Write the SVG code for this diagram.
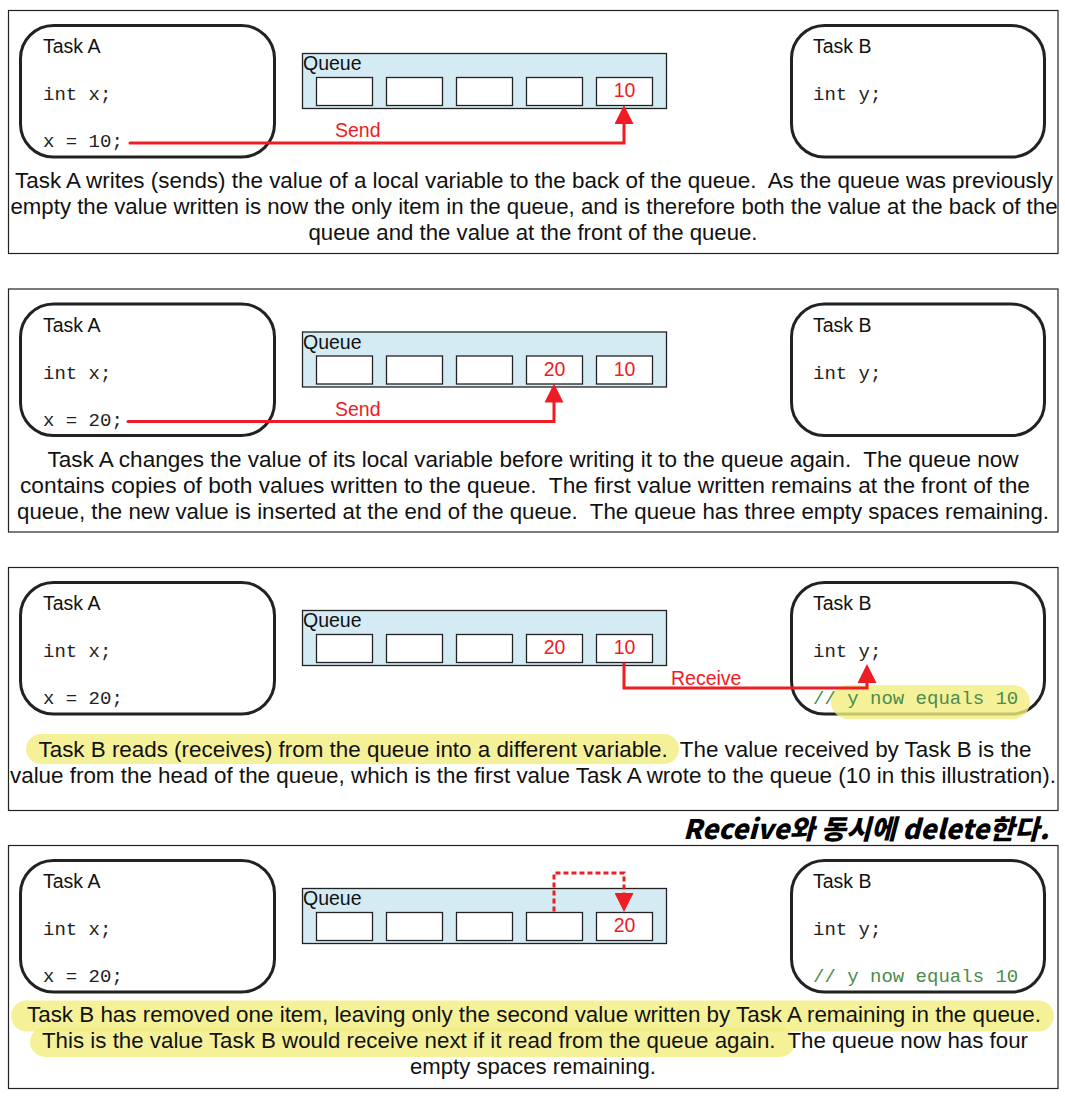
<svg xmlns="http://www.w3.org/2000/svg" width="1065" height="1096" viewBox="0 0 1065 1096">
<style>
.bg{fill:#fff}
.panel{fill:#fff;stroke:#222;stroke-width:1.2}
.task{fill:#fff;stroke:#222;stroke-width:3}
.q{fill:#d4ebf4;stroke:#222;stroke-width:1.3}
.cell{fill:#fff;stroke:#222;stroke-width:1.3}
.title{font-family:"Liberation Sans",Arial,sans-serif;font-size:19.5px;fill:#111}
.code{font-family:"Liberation Mono","Courier New",monospace;font-size:19px;fill:#222}
.cmt{fill:#4a8c4a}
.val{font-family:"Liberation Sans",Arial,sans-serif;font-size:19.5px;fill:#ee1c24;text-anchor:middle}
.lbl{font-family:"Liberation Sans",Arial,sans-serif;font-size:19.5px;fill:#ee1c24}
.desc{font-family:"Liberation Sans",Arial,sans-serif;font-size:22px;fill:#111;text-anchor:middle}
.arrow{fill:none;stroke:#ee1c24;stroke-width:3}
.dash{stroke-dasharray:5 3}
.hl{fill:#f2ee80;opacity:0.8}
.hand{font-family:"Noto Sans CJK KR","Liberation Sans",sans-serif;font-size:27px;font-weight:900;font-style:italic;fill:#000}
</style>
<defs>
<marker id="ah" markerUnits="userSpaceOnUse" markerWidth="19" markerHeight="19" refX="0" refY="9.5" orient="auto" viewBox="0 0 19 19">
<path d="M0,0 L19,9.5 L0,19 Z" fill="#ee1c24"/>
</marker>
</defs>
<rect class="bg" x="0" y="0" width="1065" height="1096"/>

<!-- Panel 1 -->
<g id="panel1">
<rect class="panel" x="8.5" y="10.5" width="1049.5" height="243"/>
<g id="p1-taskA">
<rect class="task" x="20.5" y="25.5" width="254" height="131.5" rx="33"/>
<text class="title" x="43" y="53">Task A</text>
<text class="code" x="43" y="100" xml:space="preserve">int x;</text>
<text class="code" x="43" y="147" xml:space="preserve">x = 10;</text>
</g>
<g id="p1-queue">
<rect class="q" x="302.5" y="53.5" width="364" height="55"/>
<text class="title" x="303" y="70">Queue</text>
<rect class="cell" x="316.5" y="77.5" width="56" height="28"/>
<rect class="cell" x="386.5" y="77.5" width="56" height="28"/>
<rect class="cell" x="456.5" y="77.5" width="56" height="28"/>
<rect class="cell" x="526.5" y="77.5" width="56" height="28"/>
<rect class="cell" x="596.5" y="77.5" width="56" height="28"/>
<text class="val" x="624.5" y="97">10</text>
</g>
<g id="p1-taskB">
<rect class="task" x="791.5" y="25.5" width="253" height="131.5" rx="33"/>
<text class="title" x="813" y="53">Task B</text>
<text class="code" x="813" y="100" xml:space="preserve">int y;</text>
</g>
<g id="p1-connectors">
<path class="arrow" d="M130,143 H624 V124" stroke-linecap="round" marker-end="url(#ah)"/>
<text class="lbl" x="335" y="137">Send</text>
</g>
<g id="p1-desc">
<text class="desc" x="534" y="188" textLength="1038" lengthAdjust="spacingAndGlyphs" xml:space="preserve">Task A writes (sends) the value of a local variable to the back of the queue.  As the queue was previously</text>
<text class="desc" x="534" y="214" textLength="1047" lengthAdjust="spacingAndGlyphs">empty the value written is now the only item in the queue, and is therefore both the value at the back of the</text>
<text class="desc" x="533" y="240" textLength="449" lengthAdjust="spacingAndGlyphs">queue and the value at the front of the queue.</text>
</g>
</g>

<!-- Panel 2 -->
<g id="panel2" transform="translate(0,278.5)">
<rect class="panel" x="8.5" y="10.5" width="1049.5" height="243"/>
<g id="p2-taskA">
<rect class="task" x="20.5" y="25.5" width="254" height="131.5" rx="33"/>
<text class="title" x="43" y="53">Task A</text>
<text class="code" x="43" y="100" xml:space="preserve">int x;</text>
<text class="code" x="43" y="147" xml:space="preserve">x = 20;</text>
</g>
<g id="p2-queue">
<rect class="q" x="302.5" y="53.5" width="364" height="55"/>
<text class="title" x="303" y="70">Queue</text>
<rect class="cell" x="316.5" y="77.5" width="56" height="28"/>
<rect class="cell" x="386.5" y="77.5" width="56" height="28"/>
<rect class="cell" x="456.5" y="77.5" width="56" height="28"/>
<rect class="cell" x="526.5" y="77.5" width="56" height="28"/>
<rect class="cell" x="596.5" y="77.5" width="56" height="28"/>
<text class="val" x="554.5" y="97">20</text>
<text class="val" x="624.5" y="97">10</text>
</g>
<g id="p2-taskB">
<rect class="task" x="791.5" y="25.5" width="253" height="131.5" rx="33"/>
<text class="title" x="813" y="53">Task B</text>
<text class="code" x="813" y="100" xml:space="preserve">int y;</text>
</g>
<g id="p2-connectors">
<path class="arrow" d="M128,143 H554 V124" stroke-linecap="round" marker-end="url(#ah)"/>
<text class="lbl" x="335" y="137">Send</text>
</g>
<g id="p2-desc">
<text class="desc" x="533" y="188" textLength="971" lengthAdjust="spacingAndGlyphs" xml:space="preserve">Task A changes the value of its local variable before writing it to the queue again.  The queue now</text>
<text class="desc" x="525" y="214" textLength="1010" lengthAdjust="spacingAndGlyphs" xml:space="preserve">contains copies of both values written to the queue.  The first value written remains at the front of the</text>
<text class="desc" x="533" y="240" textLength="1032" lengthAdjust="spacingAndGlyphs" xml:space="preserve">queue, the new value is inserted at the end of the queue.  The queue has three empty spaces remaining.</text>
</g>
</g>

<!-- Panel 3 -->
<g id="panel3" transform="translate(0,557)">
<rect class="panel" x="8.5" y="10.5" width="1049.5" height="243"/>
<g id="p3-taskA">
<rect class="task" x="20.5" y="25.5" width="254" height="131.5" rx="33"/>
<text class="title" x="43" y="53">Task A</text>
<text class="code" x="43" y="100" xml:space="preserve">int x;</text>
<text class="code" x="43" y="147" xml:space="preserve">x = 20;</text>
</g>
<g id="p3-queue">
<rect class="q" x="302.5" y="53.5" width="364" height="55"/>
<text class="title" x="303" y="70">Queue</text>
<rect class="cell" x="316.5" y="77.5" width="56" height="28"/>
<rect class="cell" x="386.5" y="77.5" width="56" height="28"/>
<rect class="cell" x="456.5" y="77.5" width="56" height="28"/>
<rect class="cell" x="526.5" y="77.5" width="56" height="28"/>
<rect class="cell" x="596.5" y="77.5" width="56" height="28"/>
<text class="val" x="554.5" y="97">20</text>
<text class="val" x="624.5" y="97">10</text>
</g>
<g id="p3-taskB">
<rect class="task" x="791.5" y="25.5" width="253" height="131.5" rx="33"/>
<rect class="hl" x="831" y="128" width="199" height="34" rx="17"/>
<text class="title" x="813" y="53">Task B</text>
<text class="code" x="813" y="100" xml:space="preserve">int y;</text>
<text class="code cmt" x="813" y="147" xml:space="preserve">// y now equals 10</text>
</g>
<g id="p3-connectors">
<path class="arrow" d="M624,105.5 V131 H867 V126" marker-end="url(#ah)"/>
<text class="lbl" x="671" y="128">Receive</text>
</g>
<g id="p3-desc">
<rect class="hl" x="26" y="177" width="653" height="30" rx="15"/>
<text class="desc" x="535" y="200" textLength="993" lengthAdjust="spacingAndGlyphs" xml:space="preserve">Task B reads (receives) from the queue into a different variable.  The value received by Task B is the</text>
<text class="desc" x="533" y="226" textLength="1046" lengthAdjust="spacingAndGlyphs">value from the head of the queue, which is the first value Task A wrote to the queue (10 in this illustration).</text>
</g>
</g>

<!-- Handwritten note -->
<g id="note">
<text class="hand" x="683" y="839" textLength="366" lengthAdjust="spacingAndGlyphs">Receive와 동시에 delete한다.</text>
</g>

<!-- Panel 4 -->
<g id="panel4" transform="translate(0,835)">
<rect class="panel" x="8.5" y="10.5" width="1049.5" height="243"/>
<g id="p4-taskA">
<rect class="task" x="20.5" y="25.5" width="254" height="131.5" rx="33"/>
<text class="title" x="43" y="53">Task A</text>
<text class="code" x="43" y="100" xml:space="preserve">int x;</text>
<text class="code" x="43" y="147" xml:space="preserve">x = 20;</text>
</g>
<g id="p4-queue">
<rect class="q" x="302.5" y="53.5" width="364" height="55"/>
<text class="title" x="303" y="70">Queue</text>
<rect class="cell" x="316.5" y="77.5" width="56" height="28"/>
<rect class="cell" x="386.5" y="77.5" width="56" height="28"/>
<rect class="cell" x="456.5" y="77.5" width="56" height="28"/>
<rect class="cell" x="526.5" y="77.5" width="56" height="28"/>
<rect class="cell" x="596.5" y="77.5" width="56" height="28"/>
<text class="val" x="624.5" y="97">20</text>
</g>
<g id="p4-taskB">
<rect class="task" x="791.5" y="25.5" width="253" height="131.5" rx="33"/>
<text class="title" x="813" y="53">Task B</text>
<text class="code" x="813" y="100" xml:space="preserve">int y;</text>
<text class="code cmt" x="813" y="147" xml:space="preserve">// y now equals 10</text>
</g>
<g id="p4-connectors">
<path class="arrow dash" d="M554,76.5 V38 H624 V58" marker-end="url(#ah)"/>
</g>
<g id="p4-desc">
<rect class="hl" x="11" y="165.5" width="1043" height="31" rx="15.5"/>
<rect class="hl" x="30" y="192" width="765" height="30" rx="15"/>
<text class="desc" x="534" y="187" textLength="1014" lengthAdjust="spacingAndGlyphs">Task B has removed one item, leaving only the second value written by Task A remaining in the queue.</text>
<text class="desc" x="535" y="213" textLength="986" lengthAdjust="spacingAndGlyphs" xml:space="preserve">This is the value Task B would receive next if it read from the queue again.  The queue now has four</text>
<text class="desc" x="533" y="239" textLength="246" lengthAdjust="spacingAndGlyphs">empty spaces remaining.</text>
</g>
</g>
</svg>
